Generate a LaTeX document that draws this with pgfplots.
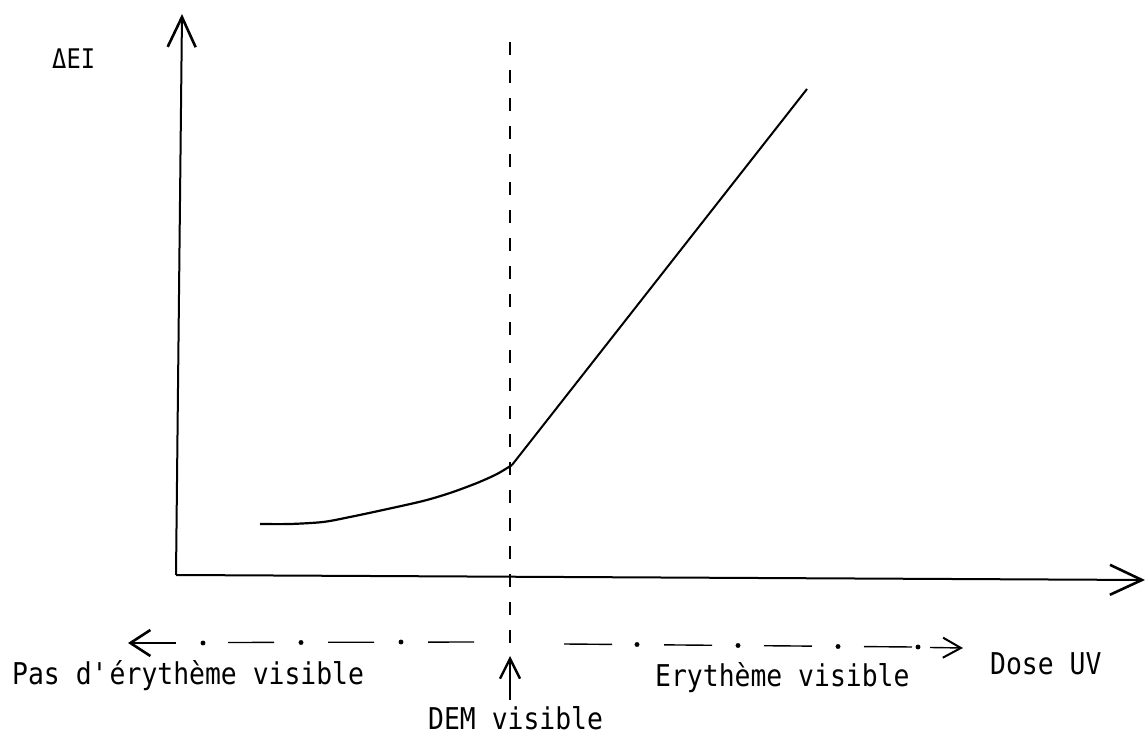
\documentclass[border=0pt]{standalone}
\usepackage{pgfplots}
\pgfplotsset{compat=1.18}
\usetikzlibrary{arrows.meta}
\usepackage{fontspec}
\setmainfont{DejaVu Sans Mono}[FakeStretch=0.88]
\begin{document}
\begin{tikzpicture}
\begin{axis}[
  width=1148pt, height=736pt, scale only axis,
  xmin=0, xmax=1148, ymin=0, ymax=736,
  axis lines=none, clip=false,
]
\coordinate (ll) at (axis cs:0,0);
\coordinate (ur) at (axis cs:1148,736);
% axes
\addplot[black, line width=2pt, -{Straight Barb[length=30pt,width=28pt,line width=2.6pt]}] coordinates {(176,161) (182,722)};
\addplot[black, line width=2pt, -{Straight Barb[length=32pt,width=30pt,line width=2.6pt]}] coordinates {(176,161) (1145,156)};
% dashed vertical
\addplot[black, line width=1.6pt, dash pattern=on 13pt off 15pt] coordinates {(510,694) (510,80)};
% curve
\addplot[black, line width=2.2pt, smooth] coordinates {(260,212) (290,212) (323,214) (350,219) (383,226) (423,235) (450,243) (477,253) (497,262) (512,271)};
\addplot[black, line width=2pt] coordinates {(512,271) (807,647)};
% DEM arrow
\addplot[black, line width=1.6pt, -{Straight Barb[length=20pt,width=20pt,line width=2.4pt]}] coordinates {(510,36) (510,80)};
% dash-dot arrow, left
\addplot[black, line width=1.4pt, dash pattern=on 46pt off 54pt] coordinates {(474,94) (228,93.5)};
\addplot[black, line width=1.4pt, -{Straight Barb[length=20pt,width=26pt,line width=2.6pt]}] coordinates {(176,93) (128,93)};
\addplot[black, only marks, mark=*, mark size=2.2pt] coordinates {(401,94) (301,93.5) (203,93)};
% dash-dot arrow, right
\addplot[black, line width=1.4pt, dash pattern=on 48pt off 52pt] coordinates {(564,92) (912,89)};
\addplot[black, line width=1.4pt, -{Straight Barb[length=18pt,width=20pt,line width=2pt]}] coordinates {(930,88.5) (963,88)};
\addplot[black, only marks, mark=*, mark size=2.2pt] coordinates {(637,91.5) (738,90.5) (838,89.5) (918,89)};
% texts
\node[anchor=base west, inner sep=0pt, font=\fontsize{27}{30}\selectfont] at (axis cs:52,667) {ΔEI};
\node[anchor=base west, inner sep=0pt, font=\fontsize{30}{34}\selectfont] at (axis cs:12,52) {Pas d\textquotesingle érythème visible};
\node[anchor=base west, inner sep=0pt, font=\fontsize{30}{34}\selectfont] at (axis cs:655,49) {Erythème visible};
\node[anchor=base west, inner sep=0pt, font=\fontsize{30}{34}\selectfont] at (axis cs:990,61) {Dose UV};
\node[anchor=base west, inner sep=0pt, font=\fontsize{30}{34}\selectfont] at (axis cs:428,7) {DEM visible};
\end{axis}
\pgfresetboundingbox
\path[use as bounding box] (ll) rectangle (ur);
\end{tikzpicture}
\end{document}
